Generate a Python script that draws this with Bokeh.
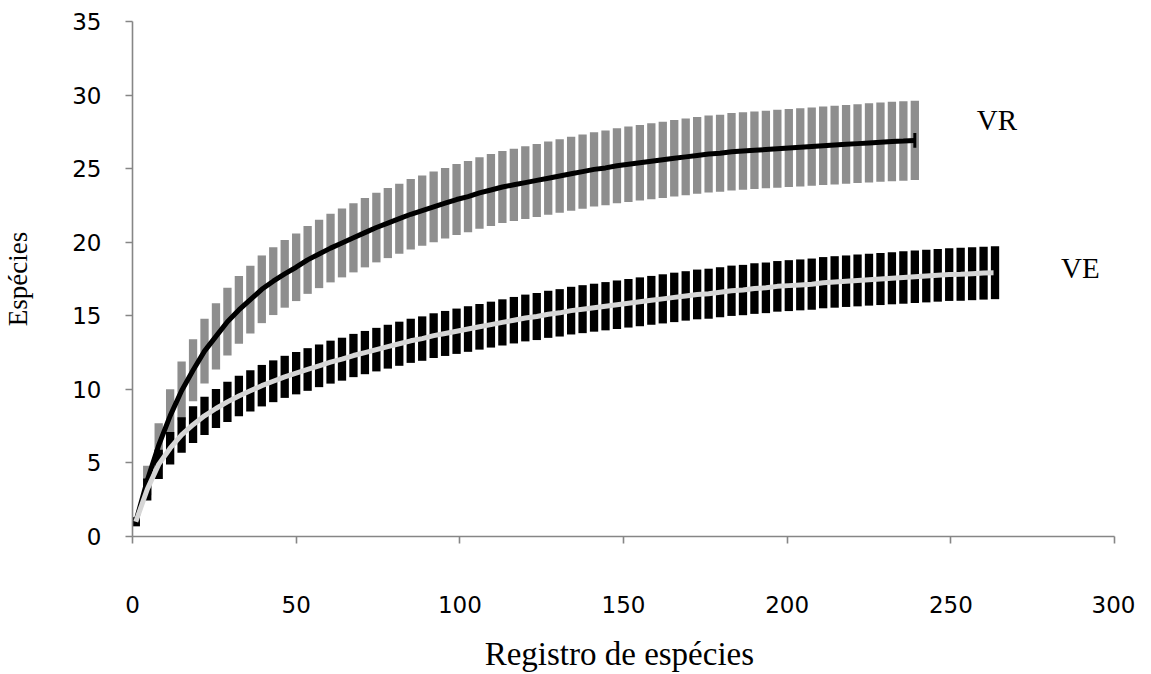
from bokeh.plotting import figure
from bokeh.models import Range1d, Label, ColumnDataSource, FixedTicker
from bokeh.embed import file_html
from bokeh.resources import INLINE

# ---------------- data ----------------
x_rec = [
    1, 4.5, 8, 11.5, 15, 18.5, 22, 25.5, 29, 32.5,
    36, 39.5, 43, 46.5, 50, 53.5, 57, 60.5, 64, 67.5,
    71, 74.5, 78, 81.5, 85, 88.5, 92, 95.5, 99, 102.5,
    106, 109.5, 113, 116.5, 120, 123.5, 127, 130.5, 134, 137.5,
    141, 144.5, 148, 151.5, 155, 158.5, 162, 165.5, 169, 172.5,
    176, 179.5, 183, 186.5, 190, 193.5, 197, 200.5, 204, 207.5,
    211, 214.5, 218, 221.5, 225, 228.5, 232, 235.5, 239, 242.5,
    246, 249.5, 253, 256.5, 260, 263.5,
]

vr_mean = [
    1.0, 3.8, 6.2, 8.2, 9.9, 11.3, 12.6, 13.6, 14.6, 15.4,
    16.1, 16.8, 17.35, 17.85, 18.3, 18.8, 19.2, 19.6, 19.95, 20.3,
    20.65, 21.0, 21.3, 21.6, 21.9, 22.15, 22.4, 22.65, 22.9, 23.1,
    23.35, 23.55, 23.75, 23.9, 24.05, 24.2, 24.35, 24.5, 24.65, 24.8,
    24.95, 25.05, 25.2, 25.3, 25.4, 25.5, 25.6, 25.7, 25.8, 25.9,
    26.0, 26.05, 26.15, 26.2, 26.25, 26.3, 26.35, 26.4, 26.45, 26.5,
    26.55, 26.6, 26.65, 26.7, 26.75, 26.8, 26.85, 26.88, 26.92,
]
vr_sd = [
    0.3, 1.0, 1.5, 1.8, 2.0, 2.1, 2.2, 2.25, 2.3, 2.3,
    2.3, 2.3, 2.3, 2.3, 2.3, 2.31, 2.32, 2.33, 2.34, 2.35,
    2.36, 2.37, 2.38, 2.38, 2.39, 2.39, 2.4, 2.4, 2.41, 2.42,
    2.43, 2.44, 2.45, 2.46, 2.47, 2.48, 2.49, 2.5, 2.51, 2.52,
    2.53, 2.54, 2.55, 2.56, 2.57, 2.58, 2.59, 2.6, 2.6, 2.61,
    2.62, 2.62, 2.63, 2.63, 2.64, 2.64, 2.65, 2.65, 2.66, 2.66,
    2.67, 2.67, 2.68, 2.68, 2.69, 2.69, 2.7, 2.7, 2.7,
]

ve_mean = [
    1.0, 3.2, 4.9, 6.0, 6.9, 7.6, 8.2, 8.7, 9.15, 9.55,
    9.9, 10.25, 10.55, 10.85, 11.1, 11.35, 11.6, 11.85, 12.05, 12.3,
    12.5, 12.7, 12.9, 13.1, 13.3, 13.45, 13.65, 13.8, 13.95, 14.1,
    14.25, 14.4, 14.55, 14.7, 14.85, 14.95, 15.1, 15.2, 15.35, 15.45,
    15.55, 15.65, 15.75, 15.85, 15.95, 16.05, 16.15, 16.25, 16.35, 16.45,
    16.5, 16.6, 16.7, 16.75, 16.85, 16.9, 17.0, 17.05, 17.1, 17.15,
    17.25, 17.3, 17.35, 17.4, 17.45, 17.5, 17.55, 17.6, 17.65, 17.7,
    17.75, 17.8, 17.82, 17.86, 17.9, 17.93,
]
ve_sd = [
    0.3, 0.75, 1.0, 1.1, 1.2, 1.25, 1.3, 1.33, 1.36, 1.38,
    1.4, 1.41, 1.42, 1.43, 1.44, 1.45, 1.45, 1.46, 1.46, 1.47,
    1.47, 1.48, 1.49, 1.5, 1.5, 1.51, 1.52, 1.53, 1.54, 1.55,
    1.55, 1.56, 1.57, 1.58, 1.59, 1.6, 1.6, 1.61, 1.62, 1.63,
    1.63, 1.64, 1.65, 1.65, 1.66, 1.66, 1.67, 1.68, 1.68, 1.69,
    1.7, 1.7, 1.71, 1.71, 1.72, 1.72, 1.72, 1.73, 1.73, 1.74,
    1.74, 1.75, 1.75, 1.76, 1.76, 1.77, 1.77, 1.78, 1.78, 1.79,
    1.79, 1.79, 1.8, 1.8, 1.8, 1.8,
]

x_ticks = [0, 50, 100, 150, 200, 250, 300]
y_ticks = [0, 5, 10, 15, 20, 25, 30, 35]
series_names = ["VR", "VE"]

# ---------------- figure ----------------
p = figure(
    frame_width=982, frame_height=515,
    x_range=Range1d(0, 300), y_range=Range1d(0, 35),
    output_backend="svg", toolbar_location=None,
    min_border_left=132, min_border_right=21,
    min_border_top=21, min_border_bottom=118,
)
p.xgrid.visible = False
p.ygrid.visible = False
p.outline_line_color = None
p.background_fill_color = "white"
p.border_fill_color = "white"

axis_col = "#868686"
for ax in (p.xaxis[0], p.yaxis[0]):
    ax.axis_line_color = axis_col
    ax.axis_line_width = 1.6
    ax.major_tick_line_color = axis_col
    ax.major_tick_line_width = 1.6
    ax.major_tick_in = 0
    ax.major_tick_out = 7
    ax.minor_tick_line_color = None
    ax.major_label_text_font = "DejaVu Sans"
    ax.major_label_text_font_size = "23px"
    ax.major_label_text_color = "black"
    ax.axis_label_text_font = "Liberation Serif"
    ax.axis_label_text_font_style = "normal"
    ax.axis_label_text_color = "black"

p.xaxis.ticker = FixedTicker(ticks=x_ticks)
p.yaxis.ticker = FixedTicker(ticks=y_ticks)
p.xaxis.axis_label = "Registro  de espécies"
p.yaxis.axis_label = "Espécies"
p.xaxis.axis_label_text_font_size = "33px"
p.yaxis.axis_label_text_font_size = "27px"
p.xaxis.major_label_standoff = 52
p.xaxis.axis_label_standoff = 20
p.yaxis.major_label_standoff = 24
p.yaxis.axis_label_standoff = 36

# ---------------- VR ----------------
n_vr = len(vr_mean)
src_vr = ColumnDataSource(dict(
    x=x_rec[:n_vr], m=vr_mean,
    lo=[m - s for m, s in zip(vr_mean, vr_sd)],
    hi=[m + s for m, s in zip(vr_mean, vr_sd)],
))
p.segment(x0="x", y0="lo", x1="x", y1="hi", source=src_vr,
          line_color="#8e8e8e", line_width=8.3, line_cap="butt")
p.line(x="x", y="m", source=src_vr, line_color="black", line_width=5)
p.segment(x0=[x_rec[n_vr - 1]], y0=[vr_mean[-1] - 0.5],
          x1=[x_rec[n_vr - 1]], y1=[vr_mean[-1] + 0.5],
          line_color="black", line_width=3)

# ---------------- VE ----------------
n_ve = len(ve_mean)
src_ve = ColumnDataSource(dict(
    x=x_rec[:n_ve], m=ve_mean,
    lo=[m - s for m, s in zip(ve_mean, ve_sd)],
    hi=[m + s for m, s in zip(ve_mean, ve_sd)],
))
p.segment(x0="x", y0="lo", x1="x", y1="hi", source=src_ve,
          line_color="black", line_width=8.3, line_cap="butt")
p.line(x="x", y="m", source=src_ve, line_color="#d6d6d6", line_width=5)
p.segment(x0=[x_rec[n_ve - 1]], y0=[ve_mean[-1] - 0.5],
          x1=[x_rec[n_ve - 1]], y1=[ve_mean[-1] + 0.5],
          line_color="black", line_width=3)

# ---------------- series labels ----------------
p.add_layout(Label(x=x_rec[n_vr - 1], y=vr_mean[-1], x_offset=62, y_offset=20,
                   text=series_names[0], text_font="Liberation Serif",
                   text_font_size="29px", text_baseline="middle", text_color="black"))
p.add_layout(Label(x=x_rec[n_ve - 1], y=ve_mean[-1], x_offset=66, y_offset=5,
                   text=series_names[1], text_font="Liberation Serif",
                   text_font_size="29px", text_baseline="middle", text_color="black"))

open("out.html", "w").write(file_html(p, INLINE))
